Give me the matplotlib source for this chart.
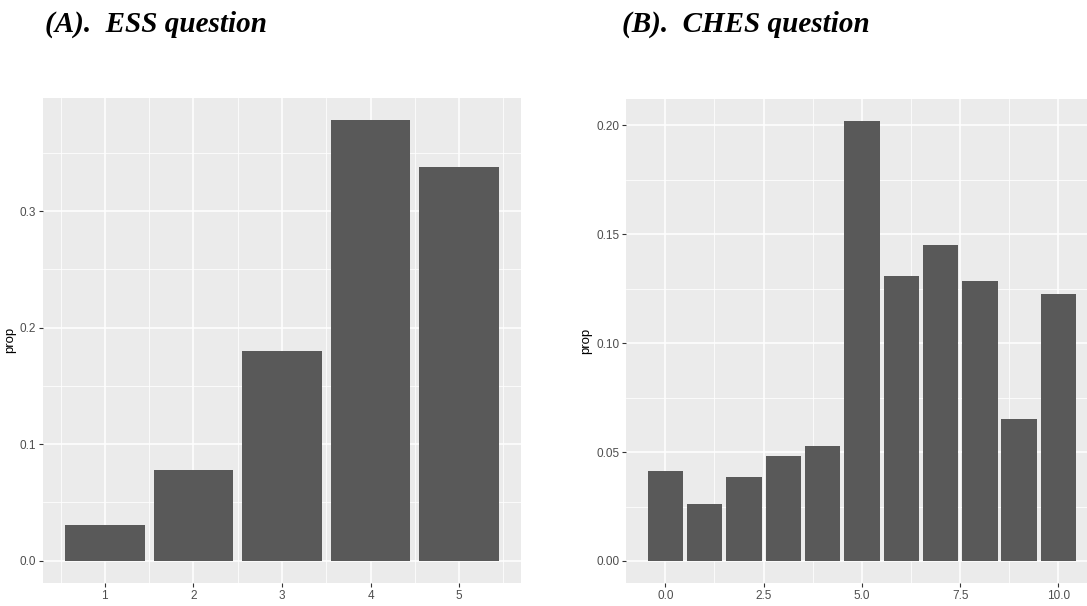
import matplotlib
matplotlib.use("Agg")
import matplotlib.pyplot as plt
from matplotlib.ticker import FixedLocator

# data
ess_scores = [1, 2, 3, 4, 5]
ess_prop = [0.0303, 0.0782, 0.1797, 0.3782, 0.3382]

ches_scores = [0, 1, 2, 3, 4, 5, 6, 7, 8, 9, 10]
ches_prop = [0.0414, 0.026, 0.0384, 0.0483, 0.0528, 0.2022, 0.1307, 0.1451, 0.1285, 0.0652, 0.1225]

W, H = 1087, 606
fig = plt.figure(figsize=(W / 100, H / 100), dpi=100)
fig.patch.set_facecolor("white")

tick_font = dict(family="Liberation Sans", size=8.5, color="#4D4D4D")


def gg_axes(rect_px, xs, ys, xmaj, xmin, ymaj, ymin, xfmt, yfmt):
    x0, y0, x1, y1 = rect_px
    ax = fig.add_axes([x0 / W, 1 - y1 / H, (x1 - x0) / W, (y1 - y0) / H])
    ax.set_facecolor("#EBEBEB")
    ax.set_axisbelow(True)
    ax.bar(xs, ys, width=0.9, color="#595959", zorder=3)
    # ggplot style 5% expansion around the bars
    lo, hi = min(xs) - 0.45, max(xs) + 0.45
    pad = 0.05 * (hi - lo)
    ax.set_xlim(lo - pad, hi + pad)
    ypad = 0.05 * max(ys)
    ax.set_ylim(-ypad, max(ys) + ypad)
    ax.xaxis.set_major_locator(FixedLocator(xmaj))
    ax.xaxis.set_minor_locator(FixedLocator(xmin))
    ax.yaxis.set_major_locator(FixedLocator(ymaj))
    ax.yaxis.set_minor_locator(FixedLocator(ymin))
    ax.set_xticklabels([xfmt(v) for v in xmaj], **tick_font)
    ax.set_yticklabels([yfmt(v) for v in ymaj], **tick_font)
    ax.grid(which="major", color="white", linewidth=1.1)
    ax.grid(which="minor", color="white", linewidth=0.55)
    for s in ax.spines.values():
        s.set_visible(False)
    ax.tick_params(which="major", length=3, width=0.8, color="#333333", pad=2)
    ax.tick_params(which="minor", length=0)
    ax.set_ylabel("prop", family="Liberation Sans", fontsize=9.5, color="black", labelpad=3)
    return ax


# (A) ESS
gg_axes((43.3, 98, 520.7, 582.7), ess_scores, ess_prop,
        [1, 2, 3, 4, 5], [0.5, 1.5, 2.5, 3.5, 4.5, 5.5],
        [0.0, 0.1, 0.2, 0.3], [0.05, 0.15, 0.25, 0.35],
        lambda v: f"{v:d}", lambda v: f"{v:.1f}")

# (B) CHES - the panel is cut off at the right edge in the original
gg_axes((626.2, 98.5, 1097.6, 583), ches_scores, ches_prop,
        [0.0, 2.5, 5.0, 7.5, 10.0], [-1.25, 1.25, 3.75, 6.25, 8.75],
        [0.0, 0.05, 0.10, 0.15, 0.20], [0.025, 0.075, 0.125, 0.175],
        lambda v: f"{v:.1f}", lambda v: f"{v:.2f}")

title_font = dict(family="Liberation Serif", size=21, weight="bold", style="italic", color="black")
fig.text(45 / W, 1 - 32 / H, "(A).  ESS question", ha="left", va="baseline", **title_font)
fig.text(622 / W, 1 - 32 / H, "(B).  CHES question", ha="left", va="baseline", **title_font)

fig.savefig("out.png", dpi=100)
